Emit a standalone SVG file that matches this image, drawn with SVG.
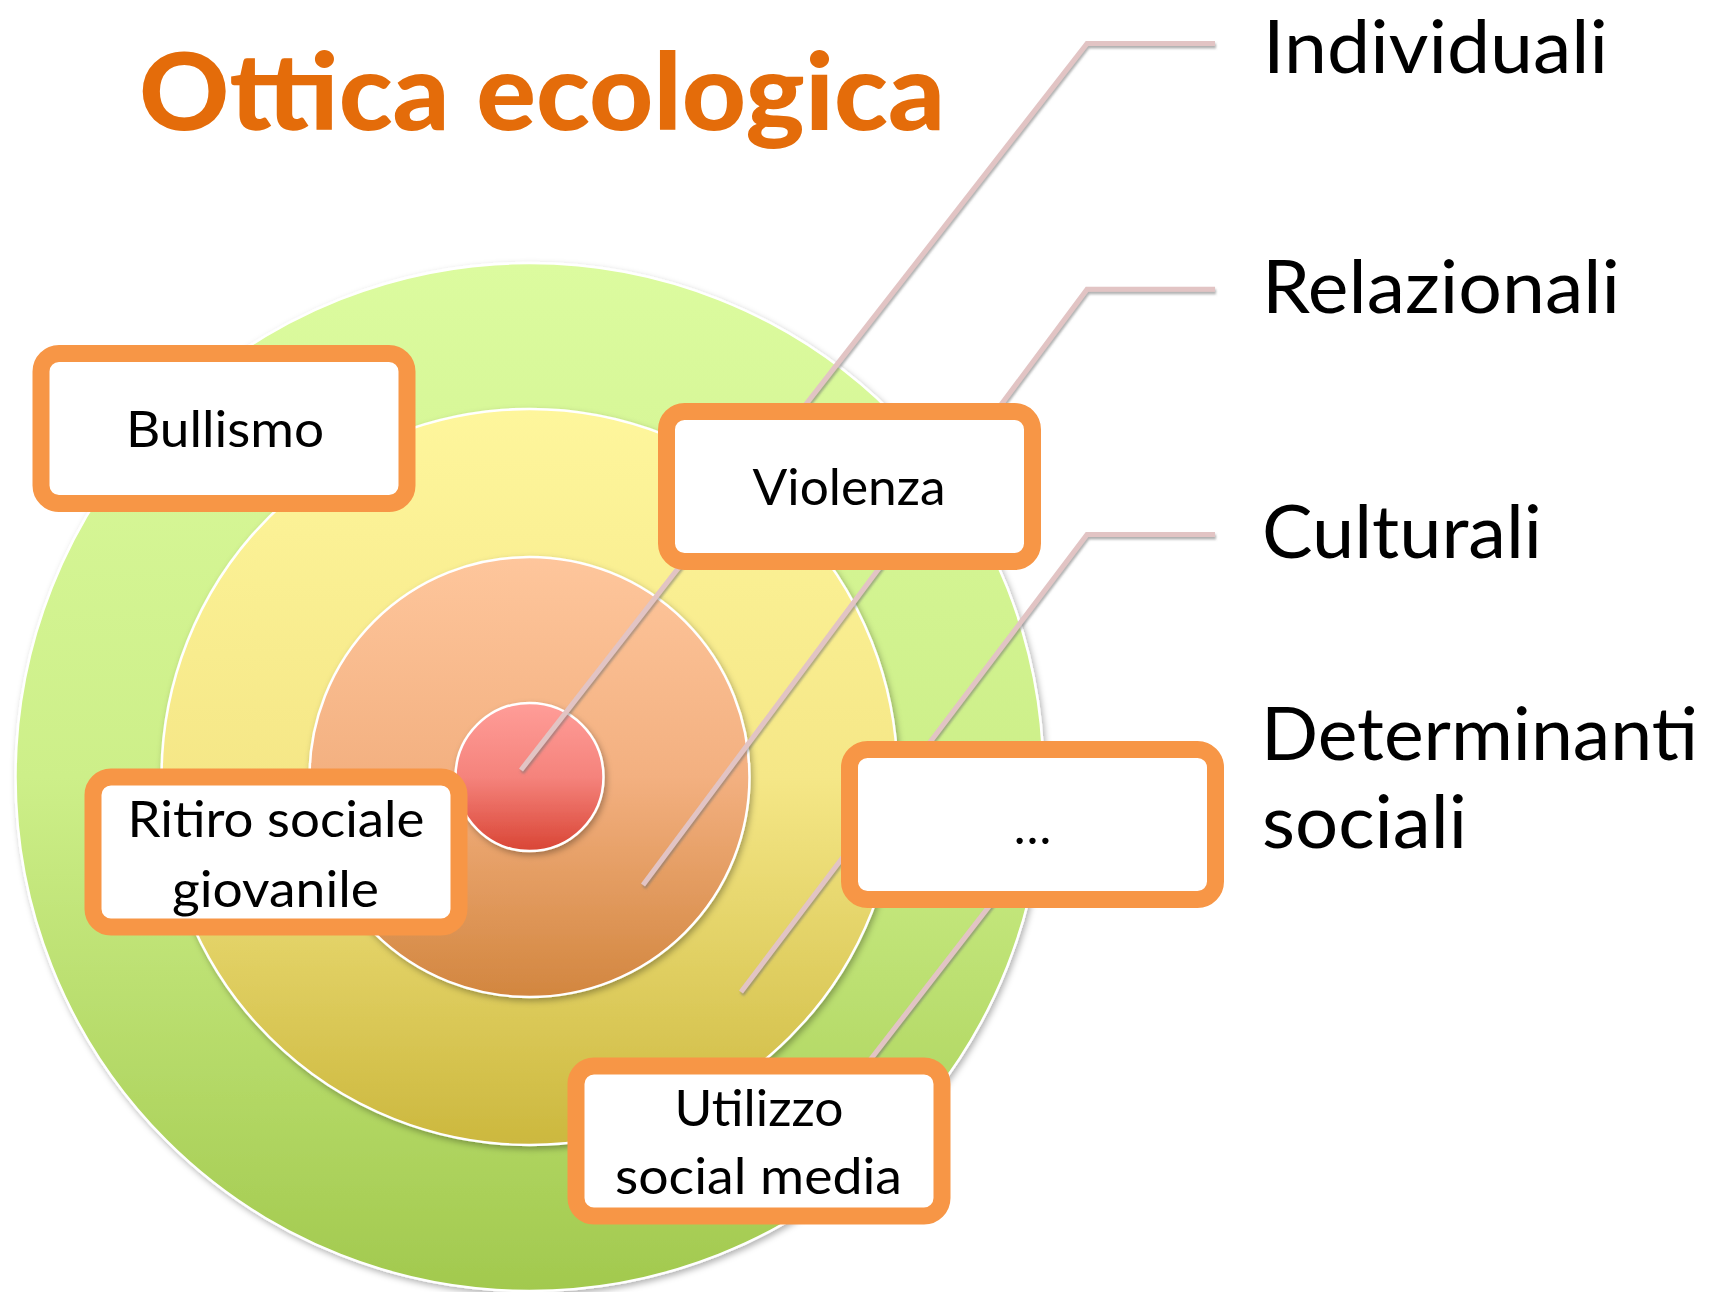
<svg xmlns="http://www.w3.org/2000/svg" width="1719" height="1292" viewBox="0 0 1719 1292">
  <defs>
    <linearGradient id="gOuter" x1="0" y1="0" x2="0" y2="1">
      <stop offset="0" stop-color="#DCFB9F"/>
      <stop offset="0.5" stop-color="#CDEF89"/>
      <stop offset="1" stop-color="#A2C94E"/>
    </linearGradient>
    <linearGradient id="gSecond" x1="0" y1="0" x2="0" y2="1">
      <stop offset="0" stop-color="#FEF69C"/>
      <stop offset="0.5" stop-color="#F5E787"/>
      <stop offset="1" stop-color="#CCB83E"/>
    </linearGradient>
    <linearGradient id="gThird" x1="0" y1="0" x2="0" y2="1">
      <stop offset="0" stop-color="#FEC69C"/>
      <stop offset="0.5" stop-color="#F3B080"/>
      <stop offset="1" stop-color="#D2863F"/>
    </linearGradient>
    <linearGradient id="gInner" x1="0" y1="0" x2="0" y2="1">
      <stop offset="0" stop-color="#FF9D98"/>
      <stop offset="0.5" stop-color="#F5837C"/>
      <stop offset="1" stop-color="#D94535"/>
    </linearGradient>
    <filter id="circleShadow" x="-10%" y="-10%" width="120%" height="120%">
      <feDropShadow dx="2" dy="3" stdDeviation="3" flood-color="#000000" flood-opacity="0.3"/>
    </filter>
    <filter id="lineShadow" x="-10%" y="-10%" width="120%" height="120%">
      <feDropShadow dx="1" dy="2.5" stdDeviation="1.2" flood-color="#707070" flood-opacity="0.55"/>
    </filter>
    <style>
      .ring { stroke: #FFFFFF; stroke-width: 2.5; filter: url(#circleShadow); }
      .conn { fill: none; stroke: #E2C4C4; stroke-width: 5; stroke-linejoin: miter; filter: url(#lineShadow); }
      .box { fill: #FFFFFF; stroke: #F79646; stroke-width: 17; }
      .boxtext { font-family: Lato, "Open Sans", "Liberation Sans", sans-serif; font-size: 50px; fill: #000000; text-anchor: middle; }
      .label { font-family: Lato, "Open Sans", "Liberation Sans", sans-serif; font-size: 74px; fill: #000000; }
      .title { font-family: Lato, "Open Sans", "Liberation Sans", sans-serif; font-weight: 900; font-size: 107px; fill: #E46C0A; text-anchor: middle; }
    </style>
  </defs>

  <rect x="0" y="0" width="1719" height="1292" fill="#FFFFFF"/>

  <text id="title" class="title" x="542" y="130" textLength="806" lengthAdjust="spacingAndGlyphs">Ottica ecologica</text>

  <g id="rings">
    <circle id="ring-outer" class="ring" cx="529.5" cy="777" r="514" fill="url(#gOuter)"/>
    <circle id="ring-second" class="ring" cx="529.5" cy="777" r="368" fill="url(#gSecond)"/>
    <circle id="ring-third" class="ring" cx="529.5" cy="777" r="220" fill="url(#gThird)"/>
    <circle id="ring-inner" class="ring" cx="529.5" cy="777" r="74" fill="url(#gInner)"/>
  </g>

  <g id="connectors">
    <polyline id="conn-individuali" class="conn" points="521,770 1087,43.5 1215,43.5"/>
    <polyline id="conn-relazionali" class="conn" points="643,885 1087,289.3 1215,289.3"/>
    <polyline id="conn-culturali" class="conn" points="741,992 1087,534.6 1215,534.6"/>
    <polyline id="conn-determinanti" class="conn" points="836,1104 1087,780 1215,780"/>
  </g>

  <g id="node-bullismo">
    <rect class="box" x="41" y="353.5" width="366" height="150" rx="18" ry="18"/>
    <text class="boxtext" x="225" y="447" textLength="198" lengthAdjust="spacingAndGlyphs">Bullismo</text>
  </g>

  <g id="node-violenza">
    <rect class="box" x="666.5" y="411.5" width="366" height="150" rx="18" ry="18"/>
    <text class="boxtext" x="849" y="505" textLength="193" lengthAdjust="spacingAndGlyphs">Violenza</text>
  </g>

  <g id="node-ritiro">
    <rect class="box" x="93" y="777" width="366" height="150" rx="18" ry="18"/>
    <text class="boxtext" x="276" y="836.7" textLength="297" lengthAdjust="spacingAndGlyphs">Ritiro sociale</text>
    <text class="boxtext" x="275.5" y="906.7" textLength="207" lengthAdjust="spacingAndGlyphs">giovanile</text>
  </g>

  <g id="node-altro">
    <rect class="box" x="849.5" y="749.5" width="366" height="150" rx="18" ry="18"/>
    <text class="boxtext" x="1032.5" y="843.5">…</text>
  </g>

  <g id="node-utilizzo">
    <rect class="box" x="576" y="1066" width="366" height="150" rx="18" ry="18"/>
    <text class="boxtext" x="759" y="1126" textLength="169" lengthAdjust="spacingAndGlyphs">Utilizzo</text>
    <text class="boxtext" x="758.5" y="1194.3" textLength="287" lengthAdjust="spacingAndGlyphs">social media</text>
  </g>

  <g id="label-individuali">
    <text class="label" x="1263" y="73" textLength="345" lengthAdjust="spacingAndGlyphs">Individuali</text>
  </g>
  <g id="label-relazionali">
    <text class="label" x="1262" y="313.3" textLength="358" lengthAdjust="spacingAndGlyphs">Relazionali</text>
  </g>
  <g id="label-culturali">
    <text class="label" x="1262" y="558.3" textLength="280" lengthAdjust="spacingAndGlyphs">Culturali</text>
  </g>
  <g id="label-determinanti">
    <text class="label" x="1261" y="760" textLength="437" lengthAdjust="spacingAndGlyphs">Determinanti</text>
    <text class="label" x="1262" y="848.3" textLength="205" lengthAdjust="spacingAndGlyphs">sociali</text>
  </g>
</svg>
